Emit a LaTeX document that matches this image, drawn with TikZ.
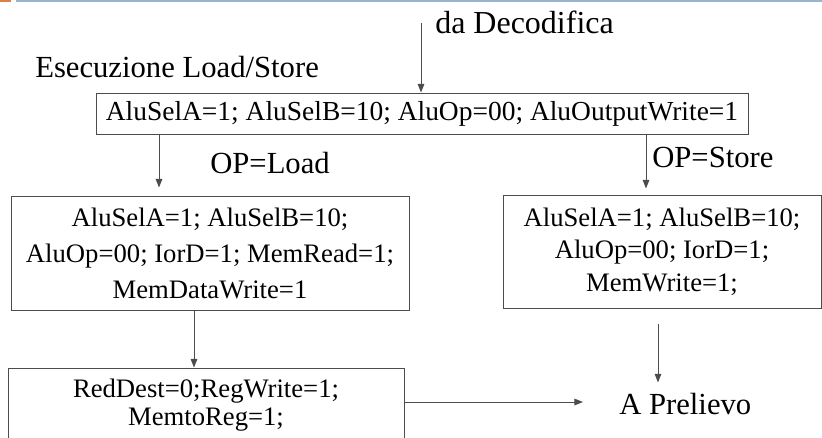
\documentclass[tikz,border=0pt]{standalone}
\usepackage{fontspec}
\setmainfont{Liberation Serif}
\usetikzlibrary{arrows.meta}
\definecolor{linegray}{gray}{0.3}
\definecolor{topblue}{RGB}{152,180,208}
\definecolor{toporange}{RGB}{221,128,71}
\tikzset{
  lab/.style={inner sep=0pt, font=\fontsize{23}{27}\selectfont},
  box/.style={draw=linegray, line width=0.75pt, inner sep=0pt, align=center},
  arr/.style={draw=linegray, line width=0.75pt, -{Triangle[length=6.5pt,width=5pt]}},
}
\begin{document}
\begin{tikzpicture}[x=0.75pt, y=-0.75pt]
\useasboundingbox (0,0) rectangle (822,437);
\clip (0,0) rectangle (822,437);
% top decoration
\fill[toporange] (0,0) rectangle (11,2);
\fill[topblue] (16,0) rectangle (822,2);

% labels
\node[lab, anchor=base west, font=\fontsize{24}{28}\selectfont] (dec) at (435,33) {da Decodifica};
\node[lab, anchor=base west] (ese) at (35,77) {Esecuzione Load/Store};
\node[lab, anchor=base west] (opl) at (210,173) {OP=Load};
\node[lab, anchor=base west] (ops) at (652,167) {OP=Store};
\node[lab, anchor=base west] (prel) at (619,414) {A Prelievo};

% boxes
\node[box, minimum width=489pt, minimum height=30.75pt,
  font=\fontsize{20.6}{24}\selectfont] (top) at (422,113.5)
  {AluSelA=1; AluSelB=10; AluOp=00; AluOutputWrite=1};
\node[box, minimum width=298.5pt, minimum height=85.5pt,
  font=\fontsize{20}{27}\selectfont] (load) at (210,253)
  {AluSelA=1; AluSelB=10;\\AluOp=00; IorD=1; MemRead=1;\\MemDataWrite=1};
\node[box, minimum width=238.5pt, minimum height=84.75pt,
  font=\fontsize{20}{24.5}\selectfont] (store) at (662,251.5)
  {AluSelA=1; AluSelB=10;\\AluOp=00; IorD=1;\\MemWrite=1;};
\node[box, minimum width=297pt, minimum height=78pt,
  font=\fontsize{20}{20.5}\selectfont] (reg) at (206,420)
  {RedDest=0;RegWrite=1;\\MemtoReg=1;\\\strut};

% connectors
\coordinate (decin) at (421,23);
\coordinate (xl) at (159,0);
\coordinate (xr) at (646,0);
\coordinate (xm) at (194,0);
\coordinate (xs) at (658,0);
\coordinate (ya) at (0,402);
\draw[arr] (decin) -- (decin |- top.north);
\draw[arr, shorten >=6pt] (top.south -| xl) -- (load.north -| xl);
\draw[arr, shorten >=4.5pt] (top.south -| xr) -- (store.north -| xr);
\draw[arr] (load.south -| xm) -- (reg.north -| xm);
\draw[arr, shorten <=11.25pt, shorten >=7.5pt] (store.south -| xs) -- (prel.north -| xs);
\draw[arr, shorten >=27pt] (reg.east |- ya) -- (prel.west |- ya);
\end{tikzpicture}
\end{document}
